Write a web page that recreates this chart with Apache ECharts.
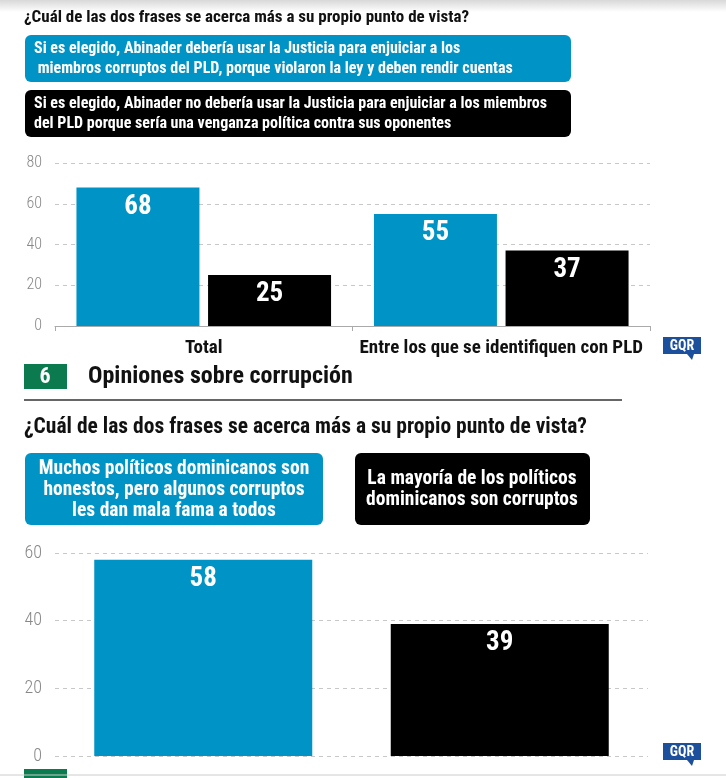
<!DOCTYPE html>
<html>
<head>
<meta charset="utf-8">
<script src="https://cdn.jsdelivr.net/npm/echarts@6/dist/echarts.min.js"></script>
<style>
  html, body { margin: 0; padding: 0; background: #fff; }
  #chart { width: 726px; height: 778px; }
</style>
</head>
<body>
<div id="chart"></div>
<script>
// datos del grafico 1 (Abinader / PLD)
var categorias1 = ['Total', 'Entre los que se identifiquen con PLD'];
var enjuiciar = [68, 55];
var noEnjuiciar = [25, 37];
var ticks1 = [0, 20, 40, 60, 80];

// datos del grafico 2 (corrupcion)
var categorias2 = ['Muchos políticos dominicanos son honestos', 'La mayoría de los políticos dominicanos son corruptos'];
var valores2 = [58, 39];
var ticks2 = [0, 20, 40, 60];

var titulo = '¿Cuál de las dos frases se acerca más a su propio punto de vista?';
var frase1A = 'Si es elegido, Abinader debería usar la Justicia para enjuiciar a los\n miembros corruptos del PLD, porque violaron la ley y deben rendir cuentas';
var frase1B = 'Si es elegido, Abinader no debería usar la Justicia para enjuiciar a los miembros\ndel PLD porque sería una venganza política contra sus oponentes';
var frase2A = 'Muchos políticos dominicanos son\nhonestos, pero algunos corruptos\nles dan mala fama a todos';
var frase2B = 'La mayoría de los políticos\ndominicanos son corruptos';

var AZUL = '#0093c6';
var NEGRO = '#000000';
var VERDE = '#0b7a4e';
var FONT = '"Roboto Condensed", "DejaVu Sans", sans-serif';

var myChart = echarts.init(document.getElementById('chart'));

function logoGQR(x, y) {
    return [
        { type: 'rect', shape: { x: x, y: y, width: 38, height: 17 }, style: { fill: '#1c4f9c' } },
        { type: 'polygon', shape: { points: [[x + 24, y + 17], [x + 31, y + 17], [x + 29, y + 23]] }, style: { fill: '#1c4f9c' } },
        { type: 'text', style: { text: 'GQR', x: x + 19, y: y + 9, align: 'center', verticalAlign: 'middle',
            fill: '#fff', fontSize: 14, fontWeight: 'bold', fontFamily: FONT } }
    ];
}

var graficos = [
    // sombra superior
    { type: 'rect', shape: { x: 0, y: 0, width: 726, height: 12 },
      style: { fill: new echarts.graphic.LinearGradient(0, 0, 0, 1, [
          { offset: 0, color: '#d8d8d8' }, { offset: 1, color: '#ffffff' }]) } },
    { type: 'text', style: { text: titulo, x: 24, y: 18, verticalAlign: 'middle',
        fill: '#111', fontSize: 17, fontWeight: 'bold', fontFamily: FONT } },
    { type: 'rect', shape: { x: 25, y: 35, width: 546, height: 47, r: 6 }, style: { fill: AZUL } },
    { type: 'text', style: { text: frase1A, x: 34, y: 59, verticalAlign: 'middle', lineHeight: 20,
        fill: '#fff', fontSize: 16, fontWeight: 'bold', fontFamily: FONT } },
    { type: 'rect', shape: { x: 25, y: 90, width: 546, height: 47, r: 6 }, style: { fill: NEGRO } },
    { type: 'text', style: { text: frase1B, x: 34, y: 114, verticalAlign: 'middle', lineHeight: 20,
        fill: '#fff', fontSize: 16, fontWeight: 'bold', fontFamily: FONT } },

    // seccion 6
    { type: 'rect', shape: { x: 24, y: 364, width: 43, height: 25 }, style: { fill: VERDE } },
    { type: 'text', style: { text: '6', x: 45, y: 377, align: 'center', verticalAlign: 'middle',
        fill: '#fff', fontSize: 22, fontWeight: 'bold', fontFamily: FONT } },
    { type: 'text', style: { text: 'Opiniones sobre corrupción', x: 88, y: 377, verticalAlign: 'middle',
        fill: '#111', fontSize: 24, fontWeight: 'bold', fontFamily: FONT } },
    { type: 'line', shape: { x1: 24, y1: 400, x2: 622, y2: 400 }, style: { stroke: '#333', lineWidth: 1.5 } },
    { type: 'text', style: { text: titulo, x: 24, y: 428, verticalAlign: 'middle',
        fill: '#111', fontSize: 21.5, fontWeight: 'bold', fontFamily: FONT } },
    { type: 'rect', shape: { x: 25, y: 453, width: 298, height: 72, r: 6 }, style: { fill: AZUL } },
    { type: 'text', style: { text: frase2A, x: 174, y: 490, align: 'center', verticalAlign: 'middle', lineHeight: 21,
        fill: '#fff', fontSize: 19.5, fontWeight: 'bold', fontFamily: FONT } },
    { type: 'rect', shape: { x: 355, y: 453, width: 235, height: 72, r: 6 }, style: { fill: NEGRO } },
    { type: 'text', style: { text: frase2B, x: 472, y: 490, align: 'center', verticalAlign: 'middle', lineHeight: 21,
        fill: '#fff', fontSize: 19.5, fontWeight: 'bold', fontFamily: FONT } },

    // pie cortado
    { type: 'rect', shape: { x: 24, y: 769, width: 43, height: 9 }, style: { fill: VERDE } },
    { type: 'line', shape: { x1: 0, y1: 775, x2: 726, y2: 775 }, style: { stroke: '#ccc', lineWidth: 1 } }
].concat(logoGQR(663, 337), logoGQR(663, 743));

var ejeY = function (idx, max, size) {
    return {
        type: 'value', gridIndex: idx, min: 0, max: max, interval: 20,
        axisLine: { show: false }, axisTick: { show: false },
        axisLabel: { color: '#888', fontSize: size, fontWeight: 300, fontFamily: FONT, margin: 13 },
        splitLine: { lineStyle: { color: '#c8c8c8', type: [4, 4] } }
    };
};

var etiqueta = {
    show: true, position: 'insideTop', distance: 6,
    color: '#fff', fontSize: 27, fontWeight: 'bold', fontFamily: FONT
};

var option = {
    animation: false,
    graphic: graficos,
    grid: [
        { left: 55, right: 76, top: 163, bottom: 452 },
        { left: 55, right: 78, top: 553, bottom: 22 }
    ],
    xAxis: [
        {
            type: 'category', gridIndex: 0, data: categorias1,
            axisLine: { lineStyle: { color: '#aaa' } },
            axisTick: { show: true, length: 5, lineStyle: { color: '#aaa' } },
            axisLabel: { interval: 0, color: '#111', fontSize: 19, fontWeight: 'bold', fontFamily: FONT, margin: 13 }
        },
        {
            type: 'category', gridIndex: 1, data: categorias2,
            axisLine: { show: false }, axisTick: { show: false }, axisLabel: { show: false }
        }
    ],
    yAxis: [ejeY(0, ticks1[ticks1.length - 1], 16), ejeY(1, ticks2[ticks2.length - 1], 18)],
    series: [
        {
            name: 'Debería enjuiciar', type: 'bar', xAxisIndex: 0, yAxisIndex: 0,
            data: enjuiciar, barWidth: 123, barGap: '7%',
            itemStyle: { color: AZUL }, label: etiqueta
        },
        {
            name: 'No debería enjuiciar', type: 'bar', xAxisIndex: 0, yAxisIndex: 0,
            data: noEnjuiciar, barWidth: 123, barGap: '7%',
            itemStyle: { color: NEGRO }, label: etiqueta
        },
        {
            name: 'Opiniones sobre corrupción', type: 'bar', xAxisIndex: 1, yAxisIndex: 1,
            data: valores2.map(function (v, i) {
                return { value: v, itemStyle: { color: i === 0 ? AZUL : NEGRO } };
            }),
            barWidth: 218, label: etiqueta, z: 3
        }
    ]
};

myChart.setOption(option);
</script>
</body>
</html>
